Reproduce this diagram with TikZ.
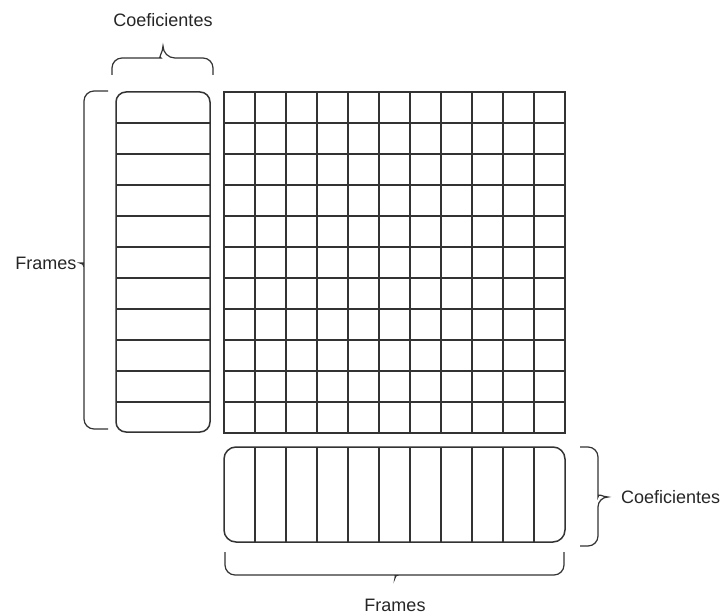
\documentclass[tikz,border=0pt]{standalone}
\usepackage{fontspec}
\setmainfont{Liberation Sans}
\usetikzlibrary{positioning}

\begin{document}
\begin{tikzpicture}[
    x=1pt, y=-1pt,
    gridline/.style={
        line width=1.5pt,
        draw=black!80
    },
    braceline/.style={
        line width=1.2pt,
        draw=black!80
    },
    caption/.style={
        font=\fontsize{18}{20}\selectfont,
        text=black!85,
        inner sep=0pt
    }
]
    \useasboundingbox (0,0) rectangle (724,615);

    % Coefficient column (left)
    \draw[gridline, rounded corners=10pt] (116,92) rectangle (210,432);
    \foreach \k in {1,...,10}
        \draw[gridline] (116,92+31*\k) -- (210,92+31*\k);

    % Matrix
    \draw[gridline] (224,92) rectangle (565,433);
    \foreach \k in {1,...,10} {
        \draw[gridline] (224+31*\k,92) -- (224+31*\k,433);
        \draw[gridline] (224,92+31*\k) -- (565,92+31*\k);
    }

    % Frame row (bottom)
    \draw[gridline, rounded corners=12pt] (224,447) rectangle (565,542);
    \foreach \k in {1,...,10}
        \draw[gridline] (224+31*\k,447) -- (224+31*\k,542);

    % Braces
    \draw[braceline] (112,75) [rounded corners=10pt] -- (112,58) -- (151,58)
        [sharp corners] to[out=0,in=270] (163,46) to[out=270,in=180] (175,58)
        [rounded corners=10pt] -- (213,58) -- (213,75);
    \draw[braceline] (108,91) [rounded corners=10pt] -- (84,91) -- (84,259)
        [sharp corners] to[out=270,in=0] (80,263) to[out=0,in=90] (84,267)
        [rounded corners=10pt] -- (84,429) -- (108,429);
    \draw[braceline] (580,447) [rounded corners=10pt] -- (598,447) -- (598,487)
        [sharp corners] to[out=270,in=180] (608,497) to[out=180,in=90] (598,507)
        [rounded corners=10pt] -- (598,546) -- (580,546);
    \draw[braceline] (225,552) [rounded corners=10pt] -- (225,575) -- (392,575)
        [sharp corners] to[out=0,in=90] (395,578) to[out=90,in=180] (398,575)
        [rounded corners=10pt] -- (564,575) -- (564,552);

    % Labels
    \node[caption] (coefs-top) at (163,20) {Coeficientes};
    \node[caption] (frames-left) at (46,263) {Frames};
    \node[caption, anchor=west] (coefs-right) at (621,497) {Coeficientes};
    \node[caption] (frames-bottom) at (395,605) {Frames};
\end{tikzpicture}
\end{document}
